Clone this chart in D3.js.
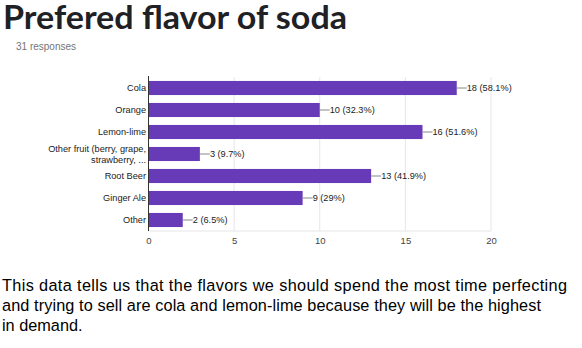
<!DOCTYPE html>
<html><head><meta charset="utf-8">
<script src="https://cdn.jsdelivr.net/npm/d3@7"></script>
<style>body{margin:0;background:#fff;}svg{display:block;}</style>
</head><body>
<svg id="c" width="582" height="348"></svg>
<script>
const categories = ["Cola","Orange","Lemon-lime","Other fruit (berry, grape, strawberry, ...","Root Beer","Ginger Ale","Other"];
const categoryLines = [["Cola"],["Orange"],["Lemon-lime"],["Other fruit (berry, grape,","strawberry, ..."],["Root Beer"],["Ginger Ale"],["Other"]];
const counts = [18,10,16,3,13,9,2];
const percents = ["58.1%","32.3%","51.6%","9.7%","41.9%","29%","6.5%"];
const xTicks = [0,5,10,15,20];
const title = "Prefered flavor of soda";
const subtitle = "31 responses";
const paragraph = ["This data tells us that the flavors we should spend the most time perfecting","and trying to sell are cola and lemon-lime because they will be the highest","in demand."];

const svg = d3.select("#c");
const pLeft = 148.5, pRight = 491, pTop = 77, pBottom = 231;
const x = d3.scaleLinear().domain([0,20]).range([pLeft,pRight]);
const y = d3.scaleBand().domain(categories).range([pTop,pBottom]).paddingInner(0.36).paddingOuter(0.18);
const fs = 9.2;

svg.append("text").attr("x",3).attr("y",28.5).attr("font-family","Lato, sans-serif").attr("font-weight",700)
  .attr("font-size",32).attr("fill","#202124").attr("textLength",344).attr("lengthAdjust","spacingAndGlyphs").text(title);
svg.append("text").attr("x",16).attr("y",49.5).attr("font-family","Liberation Sans, Arial, sans-serif")
  .attr("font-size",10).attr("fill","#757575").text(subtitle);

// grid
svg.append("g").selectAll("line").data(xTicks.slice(1)).join("line")
  .attr("x1",d=>x(d)).attr("x2",d=>x(d)).attr("y1",pTop).attr("y2",pBottom)
  .attr("stroke","#e6e6e6").attr("stroke-width",1);
svg.append("line").attr("x1",pLeft).attr("x2",pRight).attr("y1",pBottom).attr("y2",pBottom).attr("stroke","#e6e6e6");

// x axis
const xa = svg.append("g").attr("transform",`translate(0,${pBottom})`)
  .call(d3.axisBottom(x).tickValues(xTicks).tickSize(0).tickPadding(6));
xa.select(".domain").remove();
xa.selectAll("text").attr("font-family","Liberation Sans, Arial, sans-serif").attr("font-size",fs+0.3).attr("fill","#444");

// bars
svg.append("g").selectAll("rect").data(categories).join("rect")
  .attr("x",x(0)).attr("y",d=>y(d)).attr("width",(d,i)=>x(counts[i])-x(0)).attr("height",y.bandwidth())
  .attr("fill","#673ab7");

// left axis line
svg.append("line").attr("x1",pLeft).attr("x2",pLeft).attr("y1",pTop-1).attr("y2",pBottom).attr("stroke","#333").attr("stroke-width",1);

// category labels
const cl = svg.append("g").selectAll("text").data(categories).join("text")
  .attr("text-anchor","end").attr("font-family","Liberation Sans, Arial, sans-serif").attr("font-size",fs).attr("fill","#222");
cl.each(function(d,i){
  const lines = categoryLines[i];
  const cy = y(d)+y.bandwidth()/2;
  const lh = 11;
  lines.forEach((t,j)=>{
    d3.select(this).append("tspan").attr("x",pLeft-2.5)
      .attr("y",cy + (j-(lines.length-1)/2)*lh + 3.3).text(t);
  });
});

// value labels
const vg = svg.append("g");
categories.forEach((d,i)=>{
  const cy = y(d)+y.bandwidth()/2;
  const xe = x(counts[i]);
  vg.append("line").attr("x1",xe).attr("x2",xe+10).attr("y1",cy).attr("y2",cy).attr("stroke","#888");
  vg.append("text").attr("x",xe+10).attr("y",cy+3.3).attr("font-family","Liberation Sans, Arial, sans-serif")
    .attr("font-size",fs).attr("fill","#222").text(`${counts[i]} (${percents[i]})`);
});

// paragraph
const paraW = [565, 539, null];
svg.append("g").selectAll("text").data(paragraph).join("text")
  .attr("x",2).attr("y",(d,i)=>291.3+i*19.7).attr("font-family","Liberation Sans, Arial, sans-serif")
  .attr("font-size",16.3).attr("fill","#000")
  .each(function(d,i){ if(paraW[i]) d3.select(this).attr("textLength",paraW[i]).attr("lengthAdjust","spacing"); })
  .text(d=>d);
</script>
</body></html>
